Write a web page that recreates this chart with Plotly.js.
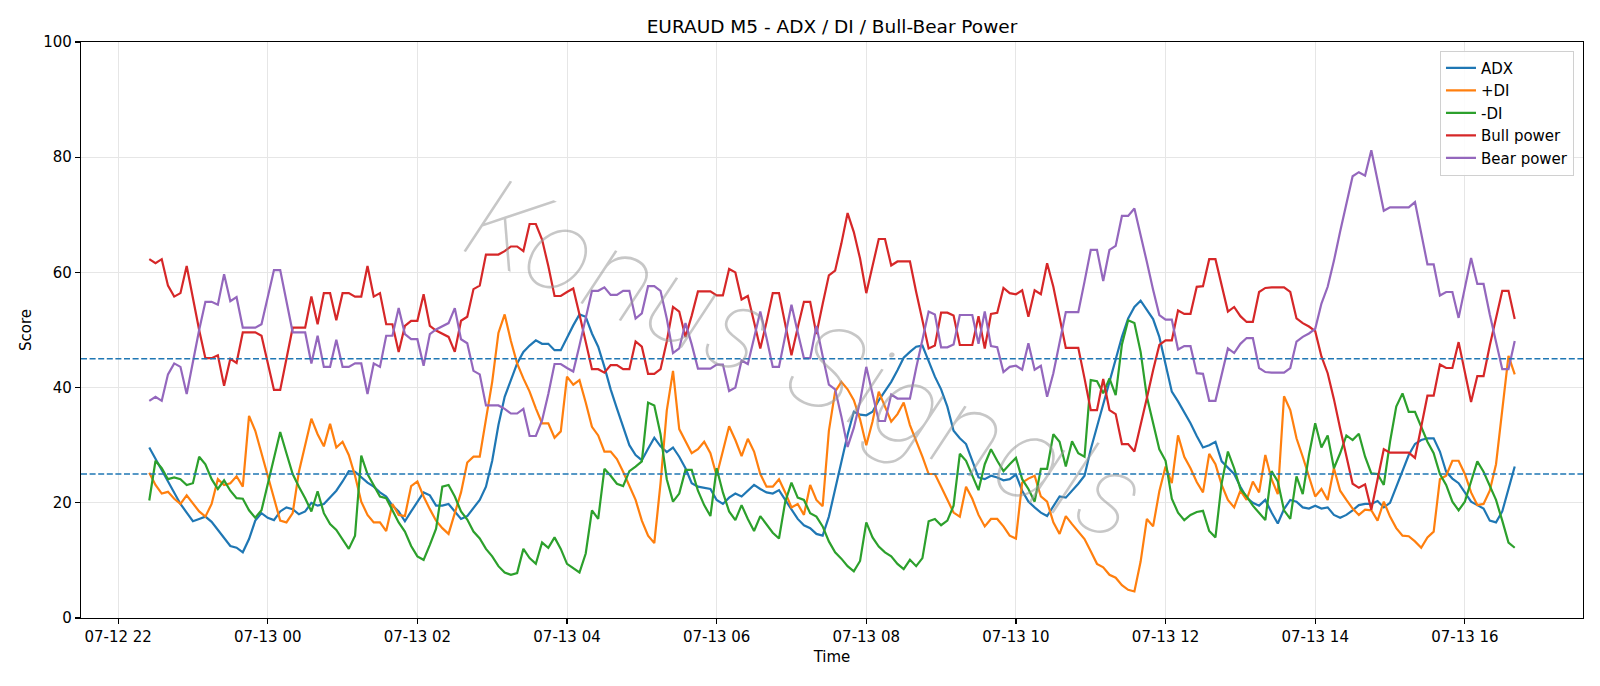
<!DOCTYPE html>
<html>
<head>
<meta charset="utf-8">
<script src="https://cdn.plot.ly/plotly-3.0.1.min.js"></script>
<style>
  html, body { margin: 0; padding: 0; background: #ffffff; }
  #chart { width: 1600px; height: 686px; }
</style>
</head>
<body>
<div id="chart"></div>
<script>
// EURAUD M5 indicator scores, one value per 5-minute bar from 07-12 22:25 to 07-13 16:40
const startTime = "2025-07-12T22:25:00";
const stepMinutes = 5;

const adx = [
  29.6, 27.6, 25.6, 23.7, 21.8, 19.8, 18.3, 16.8, 17.2, 17.6,
  16.7, 15.3, 13.8, 12.5, 12.2, 11.4, 13.7, 16.9, 18.2, 17.4,
  17.0, 18.5, 19.2, 18.9, 18.0, 18.5, 20.0, 19.5, 19.8, 20.9,
  22.1, 23.7, 25.5, 25.4, 24.4, 23.5, 22.8, 21.8, 21.1, 19.5,
  18.5, 16.8, 18.5, 20.2, 21.8, 21.3, 19.5, 19.5, 19.8, 18.5,
  17.2, 17.7, 19.0, 20.5, 22.8, 27.3, 33.5, 38.4, 41.3, 44.2,
  46.2, 47.3, 48.2, 47.6, 47.6, 46.5, 46.5, 48.8, 50.8, 52.7,
  52.3, 49.4, 47.1, 43.6, 39.7, 36.4, 33.2, 30.0, 28.3, 27.4,
  29.4, 31.3, 29.8, 28.8, 29.6, 28.0, 26.0, 23.4, 22.8, 22.6,
  22.4, 20.5, 19.8, 20.9, 21.6, 21.1, 22.1, 23.1, 22.4, 21.8,
  21.6, 22.2, 20.5, 18.9, 17.2, 16.1, 15.6, 14.6, 14.3, 17.6,
  22.5, 27.5, 31.8, 35.8, 35.3, 35.2, 35.8, 37.8, 39.3, 41.0,
  43.0, 45.2, 46.2, 47.1, 47.3, 44.7, 41.9, 39.7, 36.7, 32.5,
  31.2, 30.2, 27.3, 24.4, 24.1, 24.7, 24.4, 23.9, 24.1, 24.9,
  22.1, 20.2, 19.2, 18.3, 17.7, 19.5, 21.1, 20.9, 22.1, 23.3,
  24.7, 29.3, 33.2, 37.1, 41.0, 44.7, 48.8, 52.0, 54.0, 55.1,
  53.4, 51.9, 48.8, 43.9, 39.3, 37.6, 35.8, 33.8, 31.6, 29.6,
  30.0, 30.6, 27.2, 26.1, 25.0, 22.8, 20.9, 20.0, 19.5, 20.5,
  18.3, 16.4, 18.9, 20.5, 20.2, 19.2, 19.0, 19.5, 19.0, 19.2,
  17.9, 17.4, 17.9, 18.7, 19.6, 19.8, 19.8, 20.3, 19.2, 20.0,
  22.8, 25.7, 28.3, 30.2, 30.9, 31.2, 31.2, 28.9, 25.4, 24.2,
  23.4, 21.8, 20.2, 19.6, 19.0, 16.9, 16.6, 18.5, 22.4, 26.3
];

const plusDI = [
  25.2, 23.1, 21.6, 21.9, 20.7, 19.8, 21.3, 19.8, 18.5, 17.6,
  19.8, 24.1, 23.1, 23.4, 24.6, 22.8, 35.1, 32.5, 28.6, 24.7,
  20.5, 16.9, 16.6, 18.2, 25.4, 29.9, 34.6, 31.9, 29.8, 33.7,
  29.6, 30.6, 28.3, 24.7, 20.2, 17.9, 16.6, 16.6, 15.1, 19.8,
  17.9, 17.7, 22.9, 23.7, 21.1, 18.9, 16.9, 15.6, 14.6, 18.2,
  21.8, 27.0, 28.0, 28.0, 34.5, 41.0, 49.5, 52.7, 48.1, 44.2,
  41.6, 39.3, 36.4, 33.8, 33.8, 31.3, 32.4, 41.9, 40.5, 41.3,
  37.4, 33.2, 31.7, 28.9, 28.9, 27.6, 25.4, 23.1, 20.5, 16.9,
  14.3, 13.0, 23.4, 36.0, 42.9, 32.8, 30.6, 28.6, 29.3, 30.6,
  28.6, 24.7, 29.0, 33.3, 30.9, 28.1, 31.1, 28.9, 25.0, 22.8,
  22.8, 24.1, 21.8, 19.2, 19.8, 17.9, 23.1, 20.5, 19.4, 32.5,
  39.3, 41.0, 39.7, 37.8, 34.5, 30.0, 34.1, 39.3, 36.7, 34.1,
  35.4, 37.4, 33.5, 30.9, 28.0, 25.0, 25.0, 22.8, 20.5, 18.3,
  17.6, 22.8, 20.7, 17.9, 15.9, 17.2, 17.2, 15.9, 14.3, 13.8,
  23.5, 24.2, 24.7, 21.1, 20.2, 16.6, 14.6, 17.7, 16.3, 15.0,
  13.7, 11.6, 9.4, 8.8, 7.5, 7.0, 5.7, 4.9, 4.6, 9.8,
  17.2, 15.9, 22.0, 26.3, 23.4, 31.7, 28.0, 26.0, 23.6, 21.8,
  28.5, 26.7, 23.1, 20.5, 19.2, 22.1, 20.5, 23.7, 21.8, 28.3,
  24.1, 21.5, 38.5, 36.1, 31.2, 28.0, 24.6, 21.1, 22.4, 20.5,
  26.0, 22.1, 20.5, 19.0, 17.9, 18.8, 18.7, 16.9, 20.2, 17.6,
  15.6, 14.3, 14.2, 13.3, 12.2, 14.0, 15.0, 24.1, 24.7, 27.3,
  27.3, 25.0, 21.8, 19.6, 19.8, 22.1, 26.7, 35.8, 45.5, 42.3
];

const minusDI = [
  20.4, 27.3, 26.0, 24.1, 24.4, 24.1, 23.1, 23.4, 28.0, 26.7,
  24.1, 22.4, 23.9, 22.1, 20.8, 20.7, 18.7, 17.4, 18.7, 23.4,
  28.0, 32.3, 28.6, 25.0, 22.8, 20.8, 18.5, 22.0, 18.2, 16.3,
  15.3, 13.7, 12.0, 14.3, 28.2, 25.0, 23.1, 21.1, 20.8, 18.7,
  16.6, 15.0, 12.5, 10.7, 10.1, 12.7, 15.5, 22.8, 23.1, 21.1,
  18.5, 17.1, 15.0, 13.8, 12.0, 10.7, 9.0, 7.9, 7.5, 7.8,
  12.0, 10.4, 9.4, 13.1, 12.2, 14.0, 12.0, 9.4, 8.6, 7.9,
  11.2, 18.7, 17.2, 25.9, 24.7, 23.3, 22.9, 25.5, 26.3, 27.2,
  37.4, 36.9, 31.9, 24.1, 20.2, 21.6, 25.7, 25.7, 22.1, 19.6,
  17.7, 26.0, 21.8, 18.5, 17.0, 19.6, 17.2, 15.1, 17.7, 16.3,
  14.8, 13.8, 20.2, 23.5, 20.9, 20.5, 18.2, 17.6, 15.9, 13.3,
  11.4, 10.3, 9.0, 8.1, 9.9, 16.6, 14.0, 12.4, 11.4, 10.7,
  9.4, 8.5, 10.1, 9.0, 10.4, 16.8, 17.2, 16.1, 16.9, 19.5,
  28.5, 27.3, 24.7, 22.2, 26.7, 29.3, 27.3, 25.5, 26.7, 27.8,
  24.1, 22.4, 20.2, 25.9, 25.9, 31.9, 30.6, 26.3, 30.7, 28.6,
  28.0, 41.3, 41.1, 39.0, 41.6, 38.7, 47.5, 51.7, 51.2, 46.2,
  38.4, 33.8, 29.3, 27.3, 20.7, 18.3, 17.0, 17.9, 18.4, 18.6,
  15.1, 14.0, 23.4, 28.9, 26.0, 22.4, 21.1, 19.5, 18.3, 17.0,
  25.5, 23.7, 18.7, 17.2, 24.6, 21.5, 28.3, 33.8, 29.6, 31.7,
  26.0, 28.6, 31.7, 30.9, 32.0, 28.0, 25.1, 25.0, 23.1, 30.6,
  36.7, 39.0, 35.8, 35.8, 33.2, 30.6, 28.6, 25.0, 23.1, 20.2,
  18.7, 20.2, 23.7, 27.2, 25.4, 22.8, 20.5, 16.9, 13.1, 12.2
];

const bullPower = [
  62.3, 61.6, 62.3, 57.7, 55.8, 56.4, 61.1, 55.5, 50.0, 45.1,
  45.1, 45.6, 40.3, 45.0, 44.3, 49.6, 49.6, 49.6, 49.0, 44.3,
  39.6, 39.6, 45.0, 50.4, 50.4, 50.4, 55.8, 51.0, 56.4, 56.4,
  51.7, 56.4, 56.4, 55.8, 55.8, 61.1, 55.8, 56.4, 51.0, 51.0,
  46.2, 50.7, 51.6, 51.6, 56.2, 50.7, 49.9, 49.4, 48.8, 46.2,
  51.6, 52.3, 57.1, 57.7, 63.1, 63.1, 63.1, 63.7, 64.5, 64.5,
  63.7, 68.4, 68.4, 65.7, 61.1, 55.9, 55.9, 56.6, 57.2, 52.7,
  48.1, 43.2, 43.2, 42.6, 43.9, 43.9, 43.2, 43.2, 48.0, 47.1,
  42.4, 42.4, 43.2, 48.0, 54.0, 53.2, 48.8, 52.5, 56.7, 56.7,
  56.7, 56.0, 56.0, 60.6, 60.0, 55.3, 55.9, 51.4, 46.8, 51.4,
  56.4, 56.4, 51.0, 45.6, 50.4, 54.9, 54.9, 49.3, 54.5, 59.5,
  60.3, 65.0, 70.3, 67.0, 62.4, 56.4, 61.1, 65.8, 65.8, 61.2,
  61.9, 61.9, 61.9, 56.6, 51.7, 46.8, 47.3, 53.0, 53.0, 52.5,
  47.4, 47.4, 47.4, 52.4, 46.8, 52.8, 53.0, 57.3, 56.4, 56.2,
  56.9, 52.3, 56.9, 56.2, 61.6, 57.5, 52.0, 46.9, 46.9, 46.9,
  41.6, 36.1, 36.1, 41.5, 36.1, 35.4, 30.2, 30.2, 28.9, 33.3,
  38.2, 43.0, 47.4, 48.2, 48.2, 53.4, 52.8, 52.8, 57.5, 57.6,
  62.3, 62.3, 57.6, 53.2, 54.0, 52.4, 51.4, 51.4, 56.6, 57.3,
  57.4, 57.4, 57.4, 56.6, 52.0, 51.2, 50.6, 49.8, 45.4, 42.5,
  38.0, 32.9, 28.1, 23.3, 22.6, 23.2, 18.8, 23.9, 29.3, 28.7,
  28.7, 28.7, 28.7, 27.8, 33.0, 38.6, 38.6, 44.0, 43.4, 43.4,
  47.9, 42.7, 37.5, 42.0, 42.0, 47.3, 52.0, 56.8, 56.8, 51.9
];

const bearPower = [
  37.7, 38.4, 37.7, 42.3, 44.2, 43.6, 38.9, 44.5, 50.0, 54.9,
  54.9, 54.4, 59.7, 55.0, 55.7, 50.4, 50.4, 50.4, 51.0, 55.7,
  60.4, 60.4, 55.0, 49.6, 49.6, 49.6, 44.2, 49.0, 43.6, 43.6,
  48.3, 43.6, 43.6, 44.2, 44.2, 38.9, 44.2, 43.6, 49.0, 49.0,
  53.8, 49.3, 48.4, 48.4, 43.8, 49.3, 50.1, 50.6, 51.2, 53.8,
  48.4, 47.7, 42.9, 42.3, 36.9, 36.9, 36.9, 36.3, 35.5, 35.5,
  36.3, 31.6, 31.6, 34.3, 38.9, 44.1, 44.1, 43.4, 42.8, 47.3,
  51.9, 56.8, 56.8, 57.4, 56.1, 56.1, 56.8, 56.8, 52.0, 52.9,
  57.6, 57.6, 56.8, 52.0, 46.0, 46.8, 51.2, 47.5, 43.3, 43.3,
  43.3, 44.0, 44.0, 39.4, 40.0, 44.7, 44.1, 48.6, 53.2, 48.6,
  43.6, 43.6, 49.0, 54.4, 49.6, 45.1, 45.1, 50.7, 45.5, 40.5,
  39.7, 35.0, 29.7, 33.0, 37.6, 43.6, 38.9, 34.2, 34.2, 38.8,
  38.1, 38.1, 38.1, 43.4, 48.3, 53.2, 52.7, 47.0, 47.0, 47.5,
  52.6, 52.6, 52.6, 47.6, 53.2, 47.2, 47.0, 42.7, 43.6, 43.8,
  43.1, 47.7, 43.1, 43.8, 38.4, 42.5, 48.0, 53.1, 53.1, 53.1,
  58.4, 63.9, 63.9, 58.5, 63.9, 64.6, 69.8, 69.8, 71.1, 66.7,
  61.8, 57.0, 52.6, 51.8, 51.8, 46.6, 47.2, 47.2, 42.5, 42.4,
  37.7, 37.7, 42.4, 46.8, 46.0, 47.6, 48.6, 48.6, 43.4, 42.7,
  42.6, 42.6, 42.6, 43.4, 48.0, 48.8, 49.4, 50.2, 54.6, 57.5,
  62.0, 67.1, 71.9, 76.7, 77.4, 76.8, 81.2, 76.1, 70.7, 71.3,
  71.3, 71.3, 71.3, 72.2, 67.0, 61.4, 61.4, 56.0, 56.6, 56.6,
  52.1, 57.3, 62.5, 58.0, 58.0, 52.7, 48.0, 43.2, 43.2, 48.1
];

const seriesNames = ["ADX", "+DI", "-DI", "Bull power", "Bear power"];
const seriesColors = ["#1f77b4", "#ff7f0e", "#2ca02c", "#d62728", "#9467bd"];
const thresholds = [45, 25];
const yTicks = [0, 20, 40, 60, 80, 100];
const xTicks = ["2025-07-12 22:00", "2025-07-13 00:00", "2025-07-13 02:00", "2025-07-13 04:00",
                "2025-07-13 06:00", "2025-07-13 08:00", "2025-07-13 10:00", "2025-07-13 12:00",
                "2025-07-13 14:00", "2025-07-13 16:00"];
const xTickText = ["07-12 22", "07-13 00", "07-13 02", "07-13 04", "07-13 06",
                   "07-13 08", "07-13 10", "07-13 12", "07-13 14", "07-13 16"];
const watermarkText = "Konus Signals";

// bar timestamps
function pad(n) { return String(n).padStart(2, "0"); }
function fmt(d) {
  return d.getUTCFullYear() + "-" + pad(d.getUTCMonth() + 1) + "-" + pad(d.getUTCDate()) +
         " " + pad(d.getUTCHours()) + ":" + pad(d.getUTCMinutes()) + ":" + pad(d.getUTCSeconds());
}
const t0 = new Date(startTime + "Z");
const times = adx.map((_, i) => fmt(new Date(t0.getTime() + i * stepMinutes * 60000)));

// 5% padding either side of the data span
const spanMs = (adx.length - 1) * stepMinutes * 60000;
const xMin = fmt(new Date(t0.getTime() - 0.05 * spanMs));
const xMax = fmt(new Date(t0.getTime() + 1.05 * spanMs));

const values = [adx, plusDI, minusDI, bullPower, bearPower];
const traces = values.map((v, k) => ({
  type: "scatter",
  mode: "lines",
  x: times,
  y: v,
  name: seriesNames[k],
  line: { color: seriesColors[k], width: 2.2 }
}));

const font = "DejaVu Sans, sans-serif";

const layout = {
  width: 1600,
  height: 686,
  margin: { l: 81, r: 17, t: 42, b: 68 },
  paper_bgcolor: "#ffffff",
  plot_bgcolor: "#ffffff",
  font: { family: font, size: 15, color: "#000000" },
  title: {
    text: "EURAUD M5 - ADX / DI / Bull-Bear Power",
    font: { family: font, size: 18.5, color: "#000000" },
    x: 0.52, xanchor: "center",
    y: 0.962, yanchor: "middle"
  },
  xaxis: {
    type: "date",
    range: [xMin, xMax],
    tickmode: "array",
    tickvals: xTicks,
    ticktext: xTickText,
    ticks: "outside",
    ticklen: 5,
    tickwidth: 1.2,
    tickcolor: "#000000",
    showgrid: true,
    gridcolor: "#e6e6e6",
    gridwidth: 1,
    showline: true,
    linecolor: "#000000",
    linewidth: 1.2,
    mirror: true,
    zeroline: false,
    tickfont: { family: font, size: 15 },
    title: { text: "Time", font: { family: font, size: 15 }, standoff: 6 }
  },
  yaxis: {
    range: [0, 100],
    tickmode: "array",
    tickvals: yTicks,
    ticks: "outside",
    ticklen: 5,
    tickwidth: 1.2,
    tickcolor: "#000000",
    showgrid: true,
    gridcolor: "#e6e6e6",
    gridwidth: 1,
    showline: true,
    linecolor: "#000000",
    linewidth: 1.2,
    mirror: true,
    zeroline: false,
    tickfont: { family: font, size: 15 },
    title: { text: "Score", font: { family: font, size: 15 }, standoff: 8 }
  },
  shapes: thresholds.map(v => ({
    type: "line",
    xref: "paper", x0: 0, x1: 1,
    yref: "y", y0: v, y1: v,
    line: { color: "#1f77b4", width: 1.5, dash: "6px,2.6px" }
  })),
  annotations: [{
    // faint diagonal watermark across the plot, thin light strokes
    text: watermarkText,
    xref: "paper", yref: "paper",
    x: 0.482, y: 0.452,
    xanchor: "center", yanchor: "middle",
    textangle: 24,
    showarrow: false,
    opacity: 0.55,
    font: { family: "Inter, Roboto, Lato, DejaVu Sans, sans-serif", size: 114,
            color: "#9a9a9a", style: "italic", weight: 100 }
  }],
  legend: {
    x: 0.994, xanchor: "right",
    y: 0.985, yanchor: "top",
    bgcolor: "rgba(255,255,255,0.85)",
    bordercolor: "#d0d0d0",
    borderwidth: 1,
    font: { family: font, size: 15 },
    tracegroupgap: 0
  },
  showlegend: true
};

Plotly.newPlot("chart", traces, layout, { displayModeBar: false, staticPlot: true });
</script>
</body>
</html>
